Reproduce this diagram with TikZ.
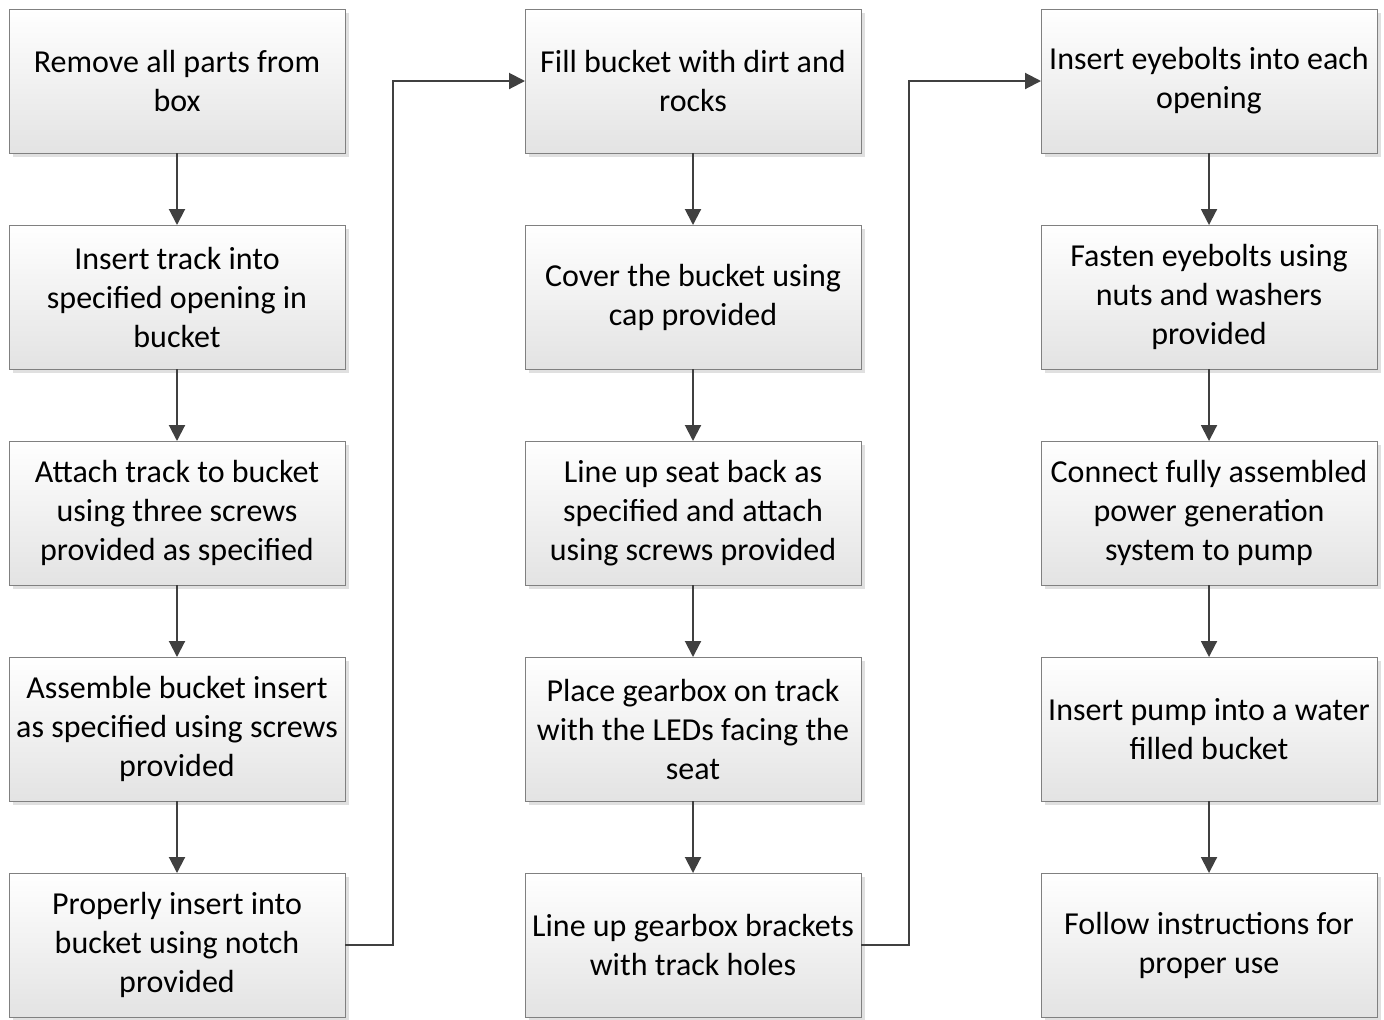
\documentclass[tikz,border=0pt]{standalone}
\usepackage{fontspec}
\setmainfont{Carlito}
\usetikzlibrary{positioning,shadows,arrows.meta}

\begin{document}
\begin{tikzpicture}[task/.style={draw=black!50,line width=0.5pt,rectangle,top color=white,bottom color=black!11,minimum width=168pt,minimum height=72pt,inner sep=0pt,outer sep=0pt,align=center,font=\fontsize{16pt}{19.5pt}\selectfont,drop shadow={shadow xshift=2pt,shadow yshift=-2pt,fill=black!12,opacity=1}},flow/.style={draw=black!75,line width=1pt,-{Triangle[length=8pt,width=8pt]}},node distance=36pt and 90pt]
\useasboundingbox (0,0) rectangle (692pt,-509.5pt);
% first column
\node[task] (A1) at (88.5pt,-40.5pt) {Remove all parts from\\box};
\node[task, below=of A1] (A2) {Insert track into\\specified opening in\\bucket};
\node[task, below=of A2] (A3) {Attach track to bucket\\using three screws\\provided as specified};
\node[task, below=of A3] (A4) {Assemble bucket insert\\as specified using screws\\provided};
\node[task, below=of A4] (A5) {Properly insert into\\bucket using notch\\provided};
% second column
\node[task, right=of A1] (B1) {Fill bucket with dirt and\\rocks};
\node[task, below=of B1] (B2) {Cover the bucket using\\cap provided};
\node[task, below=of B2] (B3) {Line up seat back as\\specified and attach\\using screws provided};
\node[task, below=of B3] (B4) {Place gearbox on track\\with the LEDs facing the\\seat};
\node[task, below=of B4] (B5) {Line up gearbox brackets\\with track holes};
% third column
\node[task, right=of B1] (C1) {Insert eyebolts into each\\opening};
\node[task, below=of C1] (C2) {Fasten eyebolts using\\nuts and washers\\provided};
\node[task, below=of C2] (C3) {Connect fully assembled\\power generation\\system to pump};
\node[task, below=of C3] (C4) {Insert pump into a water\\filled bucket};
\node[task, below=of C4] (C5) {Follow instructions for\\proper use};

\foreach \i/\j in {A1/A2,A2/A3,A3/A4,A4/A5,B1/B2,B2/B3,B3/B4,B4/B5,C1/C2,C2/C3,C3/C4,C4/C5} {
  \draw[flow] (\i) -- (\j);
}
\draw[flow] (A5.east) -- ++(24pt,0) |- (B1.west);
\draw[flow] (B5.east) -- ++(24pt,0) |- (C1.west);
\end{tikzpicture}
\end{document}
